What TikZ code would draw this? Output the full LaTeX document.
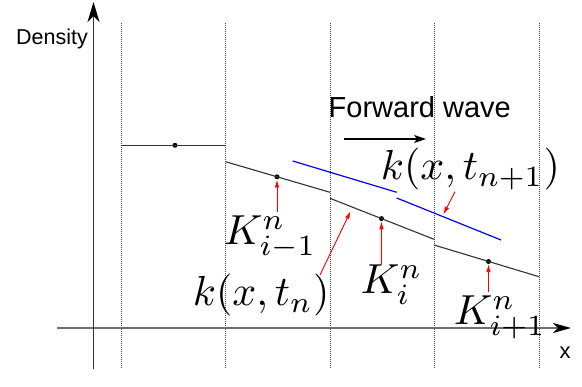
\documentclass[tikz,border=0pt]{standalone}
\usepackage{fontspec}
\setmainfont{Latin Modern Roman}
\newfontfamily\arialfont{Liberation Sans}
\usetikzlibrary{arrows.meta}
\definecolor{curvegray}{RGB}{50,50,50}
\definecolor{axisgray}{RGB}{110,110,110}
\definecolor{dotgray}{RGB}{70,70,70}
\tikzset{
  gridline/.style={draw=dotgray, line width=0.8pt, dash pattern=on 1pt off 1pt},
  axisline/.style={line width=1.4pt},
  curveline/.style={draw=curvegray, line width=1.1pt},
  blueline/.style={draw=blue, line width=1.2pt},
  redarrow/.style={draw=red, line width=0.9pt, -{Latex[length=8pt,width=4.5pt]}},
  celldot/.style={circle, fill=black, inner sep=0pt, minimum size=5pt},
  mathlabel/.style={font=\normalsize, scale=4.2, inner sep=0pt, anchor=base west},
  sanslabel/.style={inner sep=0pt, anchor=base west},
}
\begin{document}
\begin{tikzpicture}[x=1pt,y=-1pt]
\useasboundingbox (0,0) rectangle (582,387);
% grid lines
\foreach \gx/\gn in {121/g0,225.5/g1,330/g2,434/g3,539/g4}{
  \coordinate (\gn top) at (\gx,23);
  \coordinate (\gn bot) at (\gx,369);
  \draw[gridline] (\gn top) -- (\gn bot);
}
% axes
\coordinate (yb) at (93.5,369);
\coordinate (yt) at (93.5,2);
\coordinate (xl) at (57,328);
\coordinate (xr) at (571,328);
\draw[axisline, draw=axisgray, -{Stealth[length=18pt,width=10pt,inset=5pt,fill=black,color=black]}] (xl) -- (xr);
\draw[axisline, draw=curvegray, -{Stealth[length=20pt,width=12pt,inset=6pt,fill=black,color=black]}] (yb) -- (yt);
\node[sanslabel, font=\arialfont\fontsize{21.5}{26}\selectfont] (dens) at (16,45) {Density};
\node[sanslabel, font=\arialfont\fontsize{22}{26}\selectfont] (xlab) at (559.5,359) {x};
% curve k(x,t_n)
\coordinate (a0) at (121,145.3);
\coordinate (a1) at (225.5,145.3);
\node[celldot] (d0) at (175,145.3) {};
\draw[curveline] (a0) -- (a1);
\coordinate (b0) at (225.5,161.7);
\coordinate (b1) at (330,192.3);
\node[celldot] (d1) at (277,176.8) {};
\draw[curveline] (b0) -- (b1);
\coordinate (c0) at (330,198.3);
\coordinate (c1) at (434,239.3);
\node[celldot] (d2) at (381.5,218.6) {};
\draw[curveline] (c0) -- (c1);
\coordinate (e0) at (434,245);
\coordinate (e1) at (539,276.7);
\node[celldot] (d3) at (488.5,261.5) {};
\draw[curveline] (e0) -- (e1);
% blue k(x,t_{n+1})
\coordinate (f0) at (292.7,161);
\coordinate (f1) at (396.7,192.3);
\coordinate (h0) at (396.7,198);
\coordinate (h1) at (501,240);
\draw[blueline] (f0) -- (f1);
\draw[blueline] (h0) -- (h1);
% forward wave
\node[sanslabel, font=\arialfont\fontsize{29}{34}\selectfont] (fw) at (328.5,118) {Forward wave};
\coordinate (fwa) at (344,139);
\coordinate (fwb) at (426,139);
\draw[line width=1.1pt, -{Stealth[length=12pt,width=8pt,inset=3pt]}] (fwa) -- (fwb);
% labels
\node[mathlabel] (Kim1) at (223,245) {$K^n_{i-1}$};
\node[mathlabel] (Ki) at (360,294) {$K^n_i$};
\node[mathlabel] (Kip1) at (453,324.5) {$K^n_{i+1}$};
\node[mathlabel] (ktn) at (192,306) {$k(x,t_n)$};
\node[mathlabel] (ktn1) at (380,180) {$k(x,t_{n+1})$};
% red arrows
\coordinate (r1) at (277,211.7);
\coordinate (r2) at (381.5,265);
\coordinate (r3) at (488.5,291.7);
\coordinate (r4) at (320,275);
\coordinate (r4e) at (350.7,211);
\coordinate (r5) at (455,191.7);
\coordinate (r5e) at (443.3,214.5);
\draw[redarrow] (r1) -- (d1);
\draw[redarrow] (r2) -- (d2);
\draw[redarrow] (r3) -- (d3);
\draw[redarrow] (r4) -- (r4e);
\draw[redarrow] (r5) -- (r5e);
\end{tikzpicture}
\end{document}
